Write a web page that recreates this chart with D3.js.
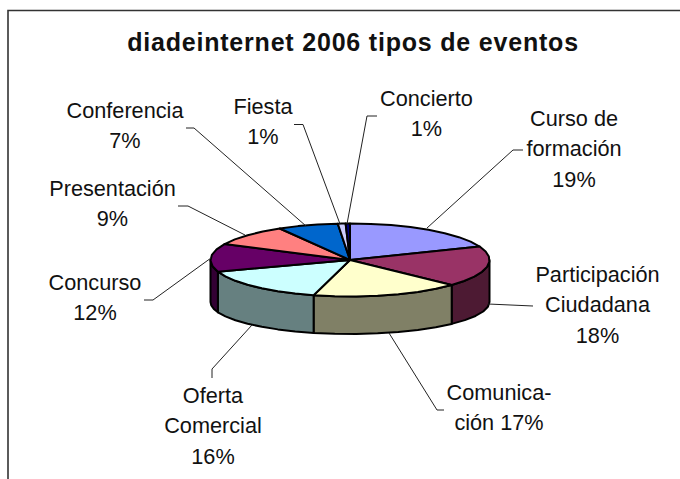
<!DOCTYPE html>
<html><head><meta charset="utf-8">
<script src="https://cdn.jsdelivr.net/npm/d3@7"></script>
<style>html,body{margin:0;padding:0;background:#fff}svg{display:block}text{font-family:"Liberation Sans",Arial,sans-serif;fill:#111}</style>
</head><body><svg id="c" width="680" height="479"></svg>
<script>
const categories=["Curso de formación","Participación Ciudadana","Comunicación","Oferta Comercial","Concurso","Presentación","Conferencia","Fiesta","Concierto"];
const values=[19,18,17.2,15.6,12.4,9.4,7,0.9,0.5];
const topColors=["#9999FF","#993366","#FFFFCC","#CCFFFF","#660066","#FF8080","#0066CC","#CCCCFF","#000080"];
const sideColors=["#4d4d80","#4d1a33","#808066","#668080","#330033","#804040","#003366","#666680","#000040"];
const labelLines=[["Curso de","formación","19%"],["Participación","Ciudadana","18%"],["Comunica-","ción 17%"],["Oferta","Comercial","16%"],["Concurso","12%"],["Presentación","9%"],["Conferencia","7%"],["Fiesta","1%"],["Concierto","1%"]];
const labelAnchors=[[574,126],[597.5,282],[499,400],[213,403],[95,290],[112.5,196],[125,118],[263,114],[426.5,106]];
const leaders=[[[523,150],[513,150],[427,228]],[[533,306],[488,304]],[[444,410],[437,410],[389,333]],[[212,378],[212,369],[252,325]],[[144,300],[153,300],[211,258]],[[178,206],[188,206],[245,235]],[[186,128],[194,128],[306,226]],[[294,124.5],[303,124.5],[340,224]],[[377,116],[367,116],[347,224]]];
const cx=350,cy=260,rx=139.5,ry=36.5,depth=42,ryBottom=32;
const svg=d3.select("#c");
svg.append("path").attr("d","M8 479V10.5H680").attr("fill","none").attr("stroke","#333").attr("stroke-width",1.6);
svg.append("text").attr("x",353).attr("y",51).attr("text-anchor","middle").attr("font-weight","bold").attr("font-size",25).style("letter-spacing","0.8px").text("diadeinternet 2006 tipos de eventos");
const pie=d3.pie().sort(null).value(d=>d)(values);
const X=d3.scaleLinear().domain([-1,1]).range([cx-rx,cx+rx]);
const Y=d3.scaleLinear().domain([-1,1]).range([cy-ry,cy+ry]);
const YB=d3.scaleLinear().domain([-1,1]).range([cy+depth-ryBottom,cy+depth+ryBottom]);
const pt=a=>[X(Math.sin(a)),Y(-Math.cos(a))];
const ptB=a=>[X(Math.sin(a)),YB(-Math.cos(a))];
const samples=(a0,a1)=>{const n=Math.max(2,Math.ceil((a1-a0)/(Math.PI/20)));return d3.range(n+1).map(i=>a0+(a1-a0)*i/n);};
const line=d3.line();
const sideG=svg.append("g"),topG=svg.append("g");
pie.forEach((p,i)=>{
  const a0=Math.max(p.startAngle,Math.PI/2),a1=Math.min(p.endAngle,Math.PI*1.5);
  if(a1<=a0)return;
  const as=samples(a0,a1);
  const poly=as.map(pt).concat(as.slice().reverse().map(ptB));
  sideG.append("path").attr("d",line(poly)+"Z").attr("fill",sideColors[i]).attr("stroke","#000").attr("stroke-width",2).attr("stroke-linejoin","round");
});
pie.forEach((p,i)=>{
  const poly=[[cx,cy]].concat(samples(p.startAngle,p.endAngle).map(pt));
  topG.append("path").attr("d",line(poly)+"Z").attr("fill",topColors[i]).attr("stroke","#000").attr("stroke-width",2).attr("stroke-linejoin","round");
});
leaders.forEach(l=>svg.append("path").attr("d",line(l)).attr("fill","none").attr("stroke","#222").attr("stroke-width",1));
labelLines.forEach((ls,i)=>{
  const t=svg.append("text").attr("text-anchor","middle").attr("font-size",21.7);
  ls.forEach((s,j)=>t.append("tspan").attr("x",labelAnchors[i][0]).attr("y",labelAnchors[i][1]+j*30.3).text(s));
});
</script></body></html>
